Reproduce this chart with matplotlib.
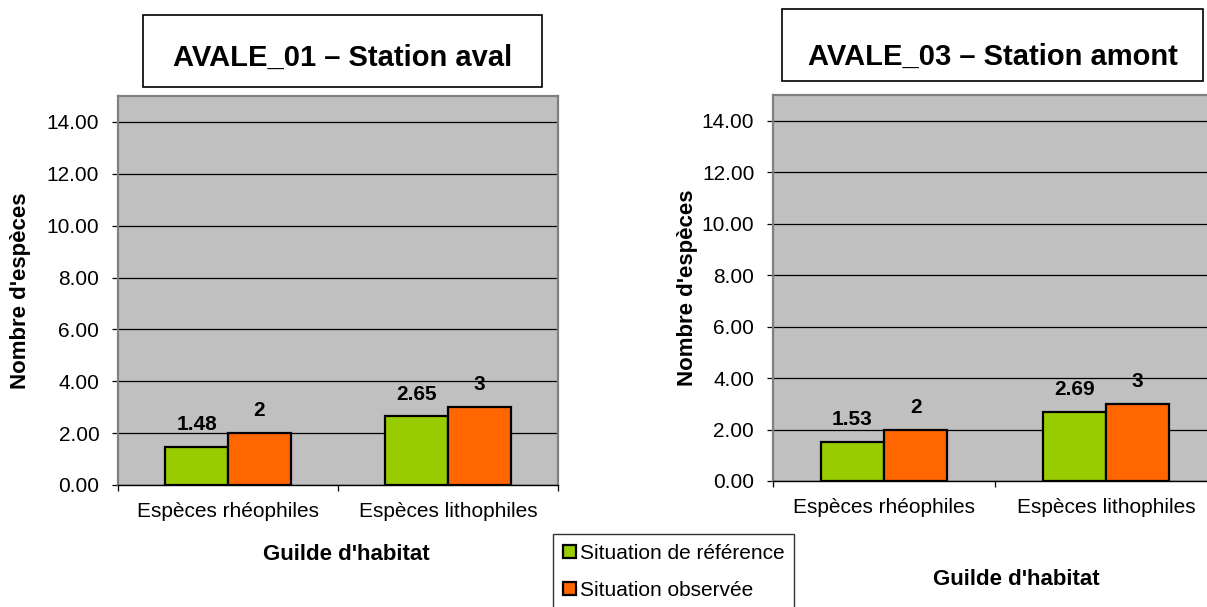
import matplotlib.pyplot as plt
from matplotlib.patches import Rectangle
from matplotlib.ticker import FixedLocator, FormatStrFormatter

plt.rcParams['font.family'] = ['Liberation Sans', 'DejaVu Sans']

# guilds and species counts for the two stations
guildes = ['Espèces rhéophiles', 'Espèces lithophiles']
series_names = ['Situation de référence', 'Situation observée']
aval_reference = [1.48, 2.65]
aval_observee = [2, 3]
amont_reference = [1.53, 2.69]
amont_observee = [2, 3]
titres = ['AVALE_01 – Station aval', 'AVALE_03 – Station amont']

GREEN = '#99CC00'
ORANGE = '#FF6600'
PLOT_BG = '#C0C0C0'

W, H = 1207, 607
fig = plt.figure(figsize=(W / 100, H / 100), dpi=100)


def px_box(x0, y0, x1, y1):
    # pixel box (top-left origin) -> figure fraction rect
    return [x0 / W, 1 - y1 / H, (x1 - x0) / W, (y1 - y0) / H]


def label_fmt(v):
    return f'{v:g}'


def draw_chart(ax, ref, obs, ylab_x, xlab_pos):
    bw = 0.2857
    x = range(len(guildes))
    b1 = ax.bar([i - bw / 2 for i in x], ref, bw, color=GREEN,
                edgecolor='black', linewidth=1.6, zorder=3, label=series_names[0])
    b2 = ax.bar([i + bw / 2 for i in x], obs, bw, color=ORANGE,
                edgecolor='black', linewidth=1.6, zorder=3, label=series_names[1])
    for bars, vals in ((b1, ref), (b2, obs)):
        for rect, v in zip(bars, vals):
            ax.annotate(label_fmt(v), (rect.get_x() + rect.get_width() / 2, v),
                        xytext=(0, 16), textcoords='offset points',
                        ha='center', va='center', fontsize=15, fontweight='bold')

    ax.set_facecolor(PLOT_BG)
    ax.set_ylim(0, 15)
    ax.set_xlim(-0.5, 1.5)
    ax.yaxis.set_major_locator(FixedLocator([0, 2, 4, 6, 8, 10, 12, 14]))
    ax.yaxis.set_major_formatter(FormatStrFormatter('%.2f'))
    ax.grid(axis='y', color='black', linewidth=0.9, zorder=1)
    ax.set_axisbelow(True)
    ax.tick_params(axis='y', direction='out', length=4.5, width=0.9,
                   pad=9, labelsize=15)

    ax.set_xticks(list(x))
    ax.set_xticklabels(guildes)
    ax.set_xticks([-0.5, 0.5, 1.5], minor=True)
    ax.tick_params(axis='x', which='major', length=0, pad=12.5, labelsize=15)
    ax.tick_params(axis='x', which='minor', direction='out', length=4.5, width=0.9)

    for side in ('left', 'top', 'right'):
        ax.spines[side].set_color('#808080')
        ax.spines[side].set_linewidth(1.6)
    ax.spines['bottom'].set_color('black')
    ax.spines['bottom'].set_linewidth(1.0)

    ax.set_ylabel("Nombre d'espèces", fontsize=16, fontweight='bold')
    ax.yaxis.set_label_coords(ylab_x, 0.5)
    ax.set_xlabel("Guilde d'habitat", fontsize=16, fontweight='bold')
    ax.xaxis.set_label_coords(*xlab_pos)
    return b1, b2


ax1 = fig.add_axes(px_box(118, 96, 558, 485))
h1, h2 = draw_chart(ax1, aval_reference, aval_observee, -0.198, (0.518, -0.152))

# right panel runs past the right edge of the figure
ax2 = fig.add_axes(px_box(773, 95, 1217, 481))
draw_chart(ax2, amont_reference, amont_observee, -0.169, (0.547, -0.229))

# framed titles (box in pixels, text drop below box centre in pixels)
title_boxes = [(143, 15, 542, 87, 4.5), (782, 9, 1203, 81, 10)]
for (x0, y0, x1, y1, drop), t in zip(title_boxes, titres):
    r = px_box(x0, y0, x1, y1)
    fig.patches.append(Rectangle((r[0], r[1]), r[2], r[3], transform=fig.transFigure,
                                 facecolor='white', edgecolor='black', linewidth=1.2))
    fig.text(r[0] + r[2] / 2, r[1] + r[3] / 2 - (drop + 2) / H, t, ha='center',
             va='center', fontsize=21, fontweight='bold')

leg = fig.legend([h1, h2], series_names, loc='upper left',
                 bbox_to_anchor=(553 / W, 1 - 534 / H), borderaxespad=0,
                 fontsize=15, frameon=True, fancybox=False, edgecolor='black',
                 handlelength=0.6, handleheight=0.6, handletextpad=0.2,
                 labelspacing=0.85, borderpad=0.48)
leg.get_frame().set_linewidth(1.0)

fig.savefig('out.png', dpi=100, facecolor='white')
